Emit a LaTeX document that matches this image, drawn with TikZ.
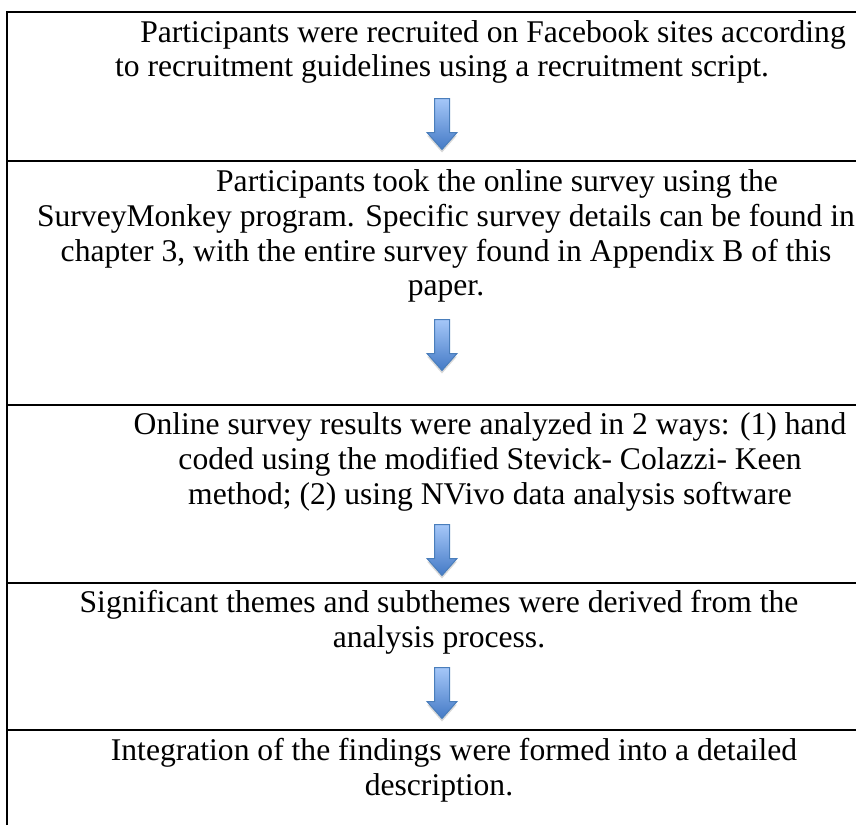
\documentclass[tikz,border=0pt]{standalone}
\usepackage{fontspec}
\setmainfont{Liberation Serif}
\usetikzlibrary{shadows}
\definecolor{arrowtop}{RGB}{165,199,248}
\definecolor{arrowbot}{RGB}{68,122,198}
\definecolor{arrowline}{RGB}{74,126,187}
\tikzset{
  steptext/.style={align=center,inner sep=0pt,font=\fontsize{15.8pt}{17.4pt}\selectfont},
  blockarrow/.style={draw=arrowline,line width=0.5pt,line join=miter,top color=arrowtop,bottom color=arrowbot,
    drop shadow={shadow xshift=0pt,shadow yshift=-1.5pt,opacity=0.3}},
  frameline/.style={line width=1.2pt}
}

\begin{document}
\begin{tikzpicture}[x=0.5pt,y=-0.5pt]
  \useasboundingbox (0,0) rectangle (856,825);
  % frame and rows
  \draw[frameline] (7,825) -- (7,12) -- (856,12);
  \foreach \y in {161,405,583,730}
    \draw[frameline] (7,\y) -- (856,\y);
  % steps
  \node[steptext] (recruit) at (442,52) {\hspace*{51pt}Participants were recruited on Facebook sites according\\to recruitment guidelines using a recruitment script.};
  \node[steptext] (survey) at (446,236) {\hspace*{51pt}Participants took the online survey using the\\SurveyMonkey program. Specific survey details can be found in\\chapter 3, with the entire survey found in Appendix B of this\\paper.};
  \node[steptext] (analyze) at (490,462) {Online survey results were analyzed in 2 ways: (1) hand\\coded using the modified Stevick- Colazzi- Keen\\method; (2) using NVivo data analysis software};
  \node[steptext] (themes) at (439,622) {Significant themes and subthemes were derived from the\\analysis process.};
  \node[steptext] (integrate) at (439,770) {\hspace*{15pt}Integration of the findings were formed into a detailed\\description.};
  % arrows
  \foreach \y in {124,345,550,693}
    \draw[blockarrow,shift={(442,\y)}] (-7.5,-25.5) -- (7.5,-25.5) -- (7.5,8.5) -- (15,8.5)
      -- (0,25.5) -- (-15,8.5) -- (-7.5,8.5) -- cycle;
\end{tikzpicture}
\end{document}
